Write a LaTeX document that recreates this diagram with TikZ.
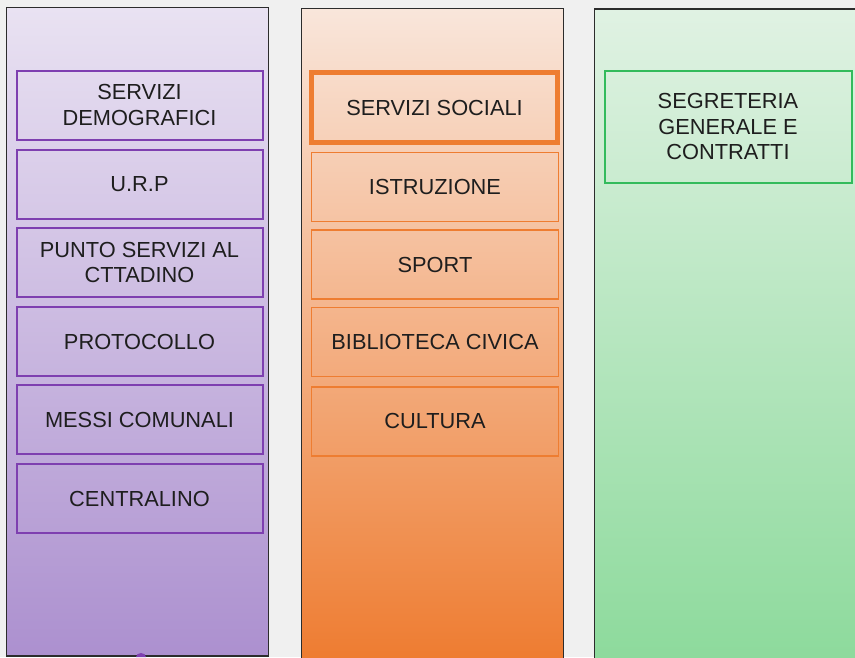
\documentclass[tikz,border=0pt]{standalone}
\usepackage{fontspec}
\setmainfont{Liberation Sans}
\begin{document}
\begin{tikzpicture}[x=1pt,y=1pt,
  column/.style={draw=colborder,line width=1.5pt},
  lbl/.style={text=txt,font=\fontsize{21.8}{25.5}\selectfont,align=center,inner sep=0pt},
  pbox/.style={lbl,draw=purpleline,line width=2pt,minimum width=246pt,minimum height=69pt},
  obox/.style={lbl,draw=orangeline,line width=1.5pt,minimum width=247pt,minimum height=69pt},
  obold/.style={lbl,draw=orangeline,line width=5pt,minimum width=246pt,minimum height=70pt},
  gbox/.style={lbl,draw=greenline,line width=2pt,minimum width=247pt,minimum height=112pt}]
\definecolor{bg}{HTML}{F0F0F0}
\definecolor{colborder}{HTML}{2C2C2C}
\definecolor{txt}{HTML}{1E1E1E}
\definecolor{purpleline}{HTML}{7E3FB0}
\definecolor{orangeline}{HTML}{EE7D31}
\definecolor{greenline}{HTML}{33BB5C}
\definecolor{ptop}{HTML}{E9E2F2}
\definecolor{pbot}{HTML}{AC90CF}
\definecolor{otop}{HTML}{F9E6DB}
\definecolor{obot}{HTML}{EE7C31}
\definecolor{gtop}{HTML}{E0F2E3}
\definecolor{gbot}{HTML}{8DDA9C}
\useasboundingbox (0,0) rectangle (855,-657);
\fill[bg] (0,0) rectangle (855,-657);
% columns
\draw[column,top color=ptop,bottom color=pbot] (6.5,-7.5) rectangle (268.5,-656);
\draw[column,top color=otop,bottom color=obot] (301.5,-8.5) rectangle (563.5,-660);
\draw[column,top color=gtop,bottom color=gbot] (594.5,-9) rectangle (870,-660);
% small purple mark at bottom of first column
\fill[purpleline] (136,-657) arc[start angle=180,end angle=0,x radius=5pt,y radius=4pt] -- cycle;
% purple boxes
\node[pbox] (dem) at (139.5,-105) {SERVIZI\\DEMOGRAFICI};
\node[pbox] (urp) at (139.5,-184.5) {U.R.P};
\node[pbox] (punto) at (139.5,-262.5) {PUNTO SERVIZI AL\\CTTADINO};
\node[pbox] (prot) at (139.5,-341.5) {PROTOCOLLO};
\node[pbox] (messi) at (139.5,-419.5) {MESSI COMUNALI};
\node[pbox] (centr) at (139.5,-498.5) {CENTRALINO};
% orange boxes
\node[obold] (soc) at (434.5,-107.5) {SERVIZI SOCIALI};
\node[obox] (istr) at (435,-187) {ISTRUZIONE};
\node[obox] (sport) at (435,-264.5) {SPORT};
\node[obox] (bib) at (435,-341.8) {BIBLIOTECA CIVICA};
\node[obox] (cult) at (435,-421.3) {CULTURA};
% green box
\node[gbox] (segr) at (728,-126.5) {SEGRETERIA\\GENERALE E\\CONTRATTI};
\end{tikzpicture}
\end{document}
